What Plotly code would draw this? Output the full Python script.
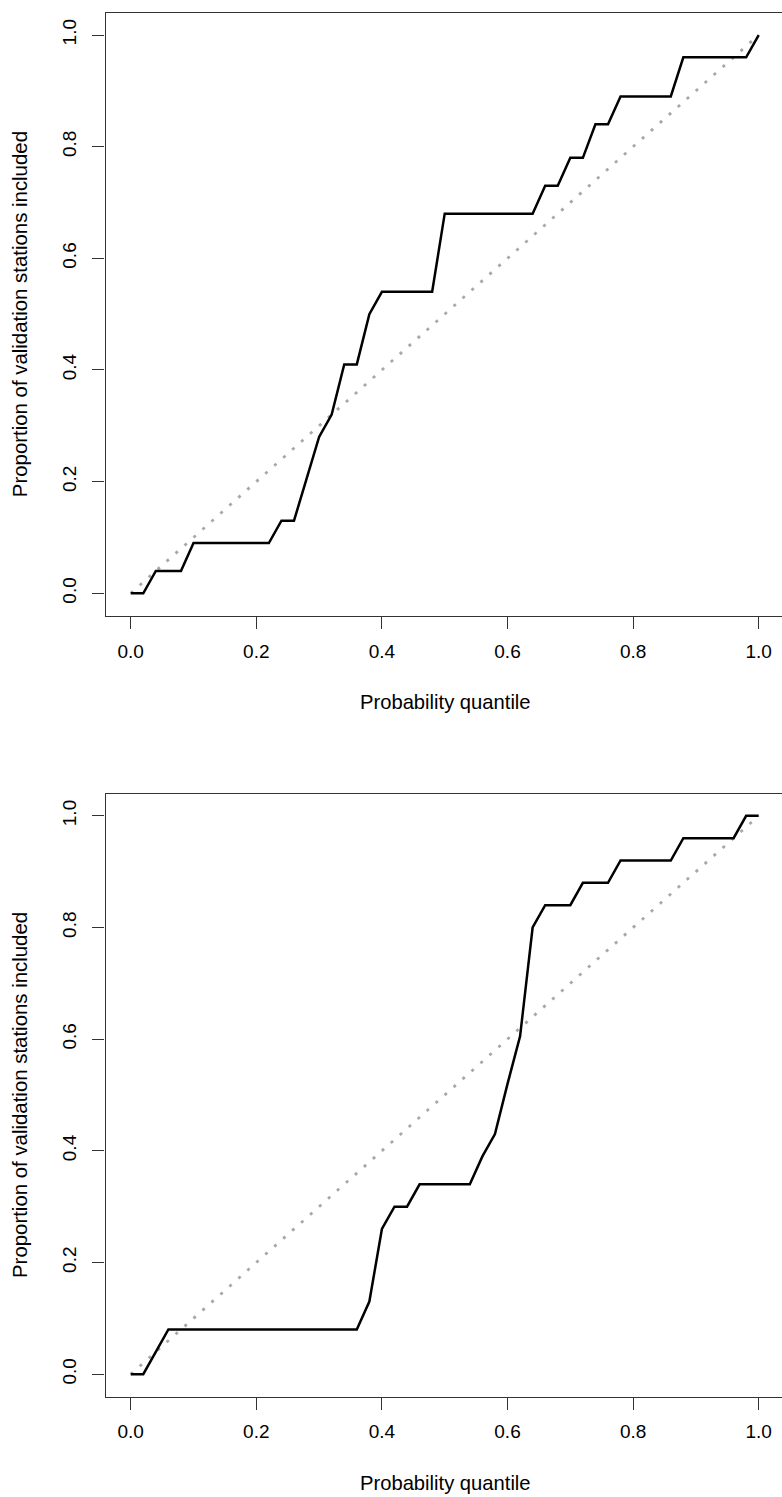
import plotly.graph_objects as go

# ---- data ----
q_top = [0, .02, .04, .08, .10, .22, .24, .26, .28, .30, .32, .34, .36, .38, .40,
         .48, .50, .64, .66, .68, .70, .72, .74, .76, .78, .86, .88, .98, 1.0]
p_top = [0, 0, .04, .04, .09, .09, .13, .13, .205, .28, .32, .41, .41, .50, .54,
         .54, .68, .68, .73, .73, .78, .78, .84, .84, .89, .89, .96, .96, 1.0]

q_bot = [0, .02, .06, .36, .38, .40, .42, .44, .46, .54, .56, .58, .60, .62, .64,
         .66, .70, .72, .76, .78, .86, .88, .96, .98, 1.0]
p_bot = [0, 0, .08, .08, .13, .26, .30, .30, .34, .34, .39, .43, .52, .605, .80,
         .84, .84, .88, .88, .92, .92, .96, .96, 1.0, 1.0]

ref_q = [0, 1]
ref_p = [0, 1]

tick_vals = [0, 0.2, 0.4, 0.6, 0.8, 1.0]
tick_text = ["0.0", "0.2", "0.4", "0.6", "0.8", "1.0"]

x_title = "Probability quantile"
y_title = "Proportion of validation stations included"

# ---- layout geometry ----
W, H = 782, 1497
FONT = "Liberation Sans, Arial, sans-serif"
AX = "#333333"


def py(px):
    return 1 - px / H


x_dom = [105.6 / W, 1.0]
top_dom = [py(615.6), py(12.7)]
bot_dom = [py(1396.5), py(793.5)]

fig = go.Figure()

for q, p, xa, ya in [(q_top, p_top, "x", "y"), (q_bot, p_bot, "x2", "y2")]:
    fig.add_trace(go.Scatter(x=ref_q, y=ref_p, mode="lines", xaxis=xa, yaxis=ya,
                             line=dict(color="#a8a8a8", width=2.8, dash="3px,9px"),
                             hoverinfo="skip", showlegend=False))
    fig.add_trace(go.Scatter(x=q, y=p, mode="lines", xaxis=xa, yaxis=ya,
                             line=dict(color="black", width=2.5),
                             showlegend=False))


def xaxis(anchor):
    return dict(domain=x_dom, anchor=anchor, range=[-0.04, 1.0371],
                showline=True, mirror=True, linecolor=AX, linewidth=1.3,
                ticks="outside", ticklen=12, tickwidth=1.3, tickcolor=AX,
                tickvals=tick_vals, ticktext=tick_text, ticklabelstandoff=6,
                showgrid=False, zeroline=False,
                tickfont=dict(family=FONT, size=19, color="black"))


def yaxis(anchor, dom):
    return dict(domain=dom, anchor=anchor, range=[-0.04, 1.04],
                showline=True, mirror=False, linecolor=AX, linewidth=1.3,
                ticks="outside", ticklen=12, tickwidth=1.3, tickcolor=AX,
                tickvals=tick_vals, ticktext=tick_text, tickangle=-90,
                ticklabelstandoff=9,
                showgrid=False, zeroline=False,
                tickfont=dict(family=FONT, size=19, color="black"))


annotations = []
for top_px, bot_px in [(12.7, 615.6), (793.5, 1396.5)]:
    cy = (top_px + bot_px) / 2
    annotations.append(dict(text=y_title, xref="paper", yref="paper",
                            x=20 / W, y=py(cy), xanchor="center", yanchor="middle",
                            textangle=-90, showarrow=False,
                            font=dict(family=FONT, size=20.4, color="black")))
    annotations.append(dict(text=x_title, xref="paper", yref="paper",
                            x=445 / W, y=py(bot_px + 86), xanchor="center",
                            yanchor="middle", showarrow=False,
                            font=dict(family=FONT, size=20.2, color="black")))

fig.update_layout(
    width=W, height=H,
    margin=dict(l=0, r=0, t=0, b=0, autoexpand=False),
    paper_bgcolor="white", plot_bgcolor="white",
    xaxis=xaxis("y"), yaxis=yaxis("x", top_dom),
    xaxis2=xaxis("y2"), yaxis2=yaxis("x2", bot_dom),
    annotations=annotations,
    showlegend=False,
)

fig.write_html(
    "out.html",
    config={"displayModeBar": False},
    post_script="document.body.style.margin='0';document.body.style.overflow='hidden';",
)
